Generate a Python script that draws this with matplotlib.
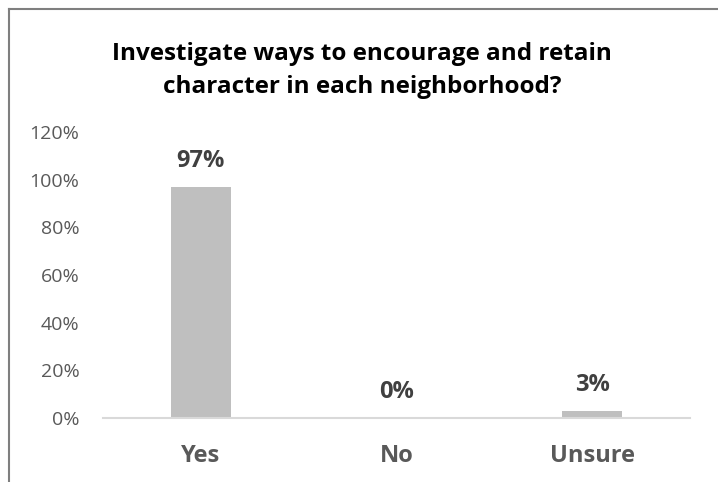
import matplotlib
matplotlib.use('Agg')
import matplotlib.pyplot as plt
from matplotlib.lines import Line2D
from matplotlib.ticker import FuncFormatter

categories = ['Yes', 'No', 'Unsure']
shares = [97, 0, 3]
y_ticks = [0, 20, 40, 60, 80, 100, 120]
title_lines = ['Investigate ways to encourage and retain',
               'character in each neighborhood?']

plt.rcParams['font.family'] = ['Open Sans', 'DejaVu Sans']

fig = plt.figure(figsize=(7.18, 4.82), dpi=100)
W, H = 718, 482
ax = fig.add_axes([103 / W, 1 - 418 / H, 587 / W, 286 / H])

# chart frame (left and top edges)
fig.add_artist(Line2D([9 / W, 9 / W], [0, 1 - 9 / H], color='#7f7f7f', lw=1.5))
fig.add_artist(Line2D([9 / W, 1], [1 - 9 / H, 1 - 9 / H], color='#7f7f7f', lw=1.5))

x = range(len(categories))
ax.bar(x, shares, width=0.31, color='#bfbfbf')
for xi, v in zip(x, shares):
    ax.annotate(f'{v}%', (xi, v), xytext=(0, 14.5), textcoords='offset points',
                ha='center', va='baseline', fontsize=17, fontweight='bold',
                color='#404040')

ax.set_xlim(-0.5, 2.5)
ax.set_ylim(0, 120)
ax.set_yticks(y_ticks)
ax.yaxis.set_major_formatter(FuncFormatter(lambda v, p: f'{v:.0f}%'))
ax.set_xticks(list(x))
ax.set_xticklabels(categories, fontsize=17, fontweight='bold', color='#595959')
ax.tick_params(axis='y', length=0, pad=17, labelsize=14, labelcolor='#595959')
ax.tick_params(axis='x', length=0, pad=19)
for s in ['top', 'right', 'left']:
    ax.spines[s].set_visible(False)
ax.spines['bottom'].set_color('#d9d9d9')
ax.spines['bottom'].set_linewidth(1.5)

# two-line title, placed by baseline
for line, base in zip(title_lines, [60, 93]):
    fig.text(362 / W, 1 - base / H, line, ha='center', va='baseline',
             fontsize=17.5, fontweight='bold', color='black')

fig.savefig('out.png', dpi=100)
